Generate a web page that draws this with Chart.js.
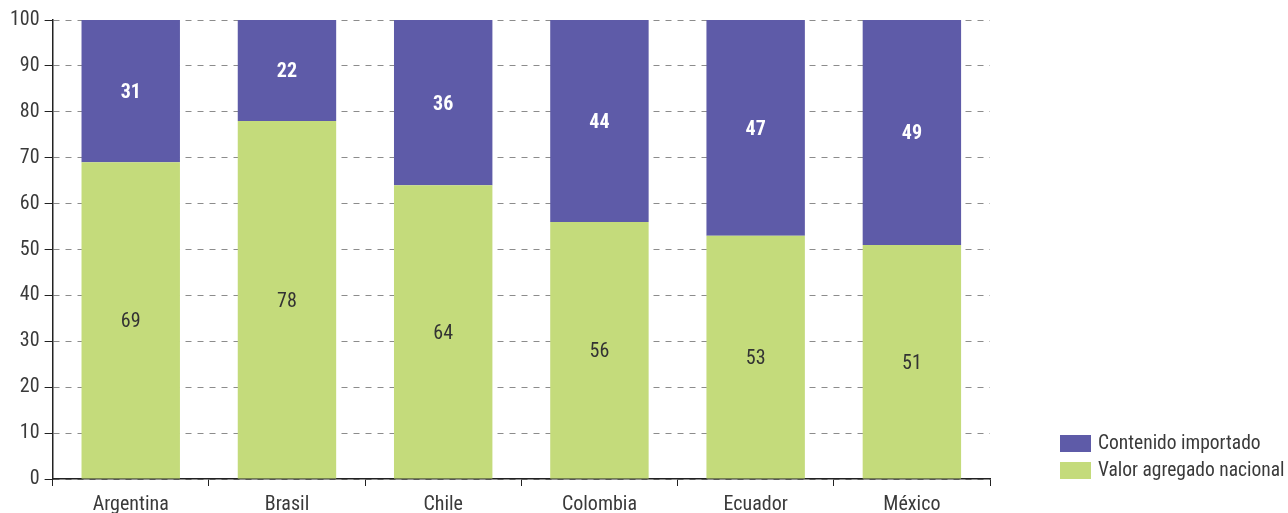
<!DOCTYPE html>
<html>
<head>
<meta charset="utf-8">
<script src="https://cdn.jsdelivr.net/npm/chart.js@4/dist/chart.umd.min.js"></script>
<style>
    html, body { margin: 0; padding: 0; background: #fff; }
    #wrap { width: 1288px; height: 513px; }
</style>
</head>
<body>
<div id="wrap"><canvas id="myChart" width="1288" height="513"></canvas></div>
<script>
// 国・系列データ
const countries = ['Argentina', 'Brasil', 'Chile', 'Colombia', 'Ecuador', 'México'];
const valorAgregado = [69, 78, 64, 56, 53, 51];
const contenidoImportado = [31, 22, 36, 44, 47, 49];
const yTicks = [0, 10, 20, 30, 40, 50, 60, 70, 80, 90, 100];

const FONT = "'Roboto Condensed', 'Roboto', sans-serif";
const TEXT_COLOR = '#3a3a3a';

/**
 * 文字幅を狭くします。
 */
const condensedText = {
    id: 'condensedText',
    beforeInit: (chart) => {
        chart.ctx.fontStretch = 'condensed';
    },
    beforeDraw: (chart) => {
        chart.ctx.fontStretch = 'condensed';
    },
};

/**
 * 棒の中央に値を描画します。
 */
const valueLabels = {
    id: 'valueLabels',
    afterDatasetsDraw: (chart) => {
        const ctx = chart.ctx;
        chart.data.datasets.forEach((ds, i) => {
            const meta = chart.getDatasetMeta(i);
            meta.data.forEach((bar, j) => {
                const y = (bar.y + bar.base) / 2;
                ctx.save();
                ctx.font = (ds.labelBold ? 'bold 20px ' : '20px ') + FONT;
                ctx.fillStyle = ds.labelColor;
                ctx.textAlign = 'center';
                ctx.textBaseline = 'middle';
                ctx.fillText(ds.data[j], bar.x, y + 2);
                ctx.restore();
            });
        });
    },
};

/**
 * 右下に凡例を描画します。
 */
const sideLegend = {
    id: 'sideLegend',
    afterDraw: (chart) => {
        const ctx = chart.ctx;
        const items = chart.data.datasets.slice().reverse();
        items.forEach((ds, i) => {
            const top = 435 + i * 27;
            ctx.save();
            ctx.fillStyle = ds.backgroundColor;
            ctx.fillRect(1060, top, 31, 17);
            ctx.font = '19.5px ' + FONT;
            ctx.fillStyle = TEXT_COLOR;
            ctx.textAlign = 'left';
            ctx.textBaseline = 'middle';
            ctx.fillText(ds.label, 1098, top + 9);
            ctx.restore();
        });
    },
};

const createChart = () => {
    const config = {
        type: 'bar',
        data: {
            labels: countries,
            datasets: [
                {
                    label: 'Valor agregado nacional',
                    data: valorAgregado,
                    backgroundColor: '#c4db7b',
                    labelColor: '#333333',
                    labelBold: false,
                },
                {
                    label: 'Contenido importado',
                    data: contenidoImportado,
                    backgroundColor: '#5e5ba8',
                    labelColor: '#ffffff',
                    labelBold: true,
                },
            ],
        },
        options: {
            animation: false,
            responsive: false,
            layout: {
                padding: { top: 20, right: 298, left: 5, bottom: 0 },
            },
            datasets: {
                bar: {
                    categoryPercentage: 1,
                    barPercentage: 0.63,
                },
            },
            plugins: {
                legend: { display: false },
                tooltip: { enabled: false },
            },
            scales: {
                x: {
                    stacked: true,
                    afterFit: (axis) => {
                        axis.height = 34;
                    },
                    grid: {
                        drawOnChartArea: false,
                        tickLength: 7,
                        tickColor: '#222',
                    },
                    border: { color: '#222', width: 1.5 },
                    ticks: {
                        color: TEXT_COLOR,
                        font: { family: FONT, size: 20, lineHeight: 1 },
                        padding: 9,
                    },
                },
                y: {
                    stacked: true,
                    min: 0,
                    max: 100,
                    afterBuildTicks: (axis) => {
                        axis.ticks = yTicks.map((v) => ({ value: v }));
                    },
                    grid: {
                        color: '#8c8c8c',
                        tickColor: '#222',
                        tickLength: 8,
                        tickBorderDash: [],
                    },
                    border: { color: '#222', width: 1.5, dash: [6, 6] },
                    ticks: {
                        color: TEXT_COLOR,
                        font: { family: FONT, size: 20 },
                        padding: 5,
                    },
                },
            },
        },
        plugins: [condensedText, valueLabels, sideLegend],
    };

    new Chart(document.getElementById('myChart'), config);
};

createChart();
</script>
</body>
</html>
